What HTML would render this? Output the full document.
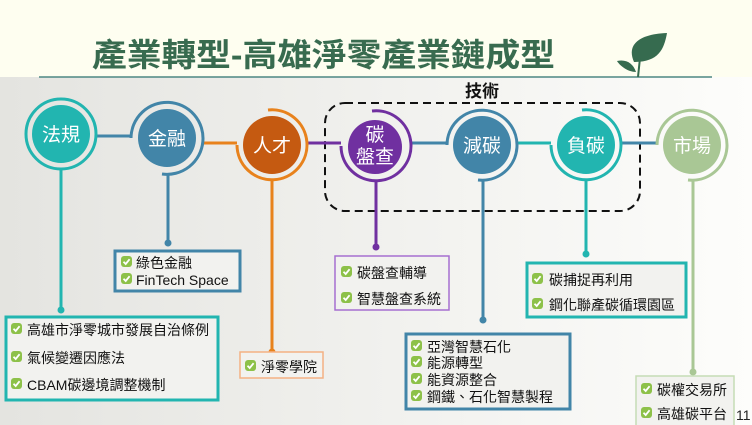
<!DOCTYPE html>
<html><head><meta charset="utf-8"><style>
html,body{margin:0;padding:0;width:752px;height:425px;overflow:hidden;}
svg{display:block;}
text{font-family:"Liberation Sans","Noto Sans CJK TC",sans-serif;}
</style></head><body>
<svg width="752" height="425" viewBox="0 0 752 425" xmlns="http://www.w3.org/2000/svg">
<defs>
<linearGradient id="bg" x1="0" x2="1" y1="0" y2="0">
<stop offset="0" stop-color="#e4e4e0"/><stop offset="1" stop-color="#fdfdfb"/>
</linearGradient>
<g id="ck"><rect x="0" y="0" width="11" height="11" rx="3" fill="#8dc149"/><path d="M2.5 5.8 L4.7 8 L8.6 3.2" stroke="#fff" stroke-width="1.8" fill="none"/></g>
</defs>
<rect width="752" height="425" fill="url(#bg)"/>
<rect width="752" height="77" fill="#fefef0"/>
<line x1="39" y1="77" x2="712" y2="77" stroke="#4d8783" stroke-width="1.5"/>
<text x="92" y="66" font-size="32" font-weight="bold" fill="#386b4f" textLength="463" lengthAdjust="spacingAndGlyphs">產業轉型-高雄淨零產業鏈成型</text>
<!-- leaf -->
<path d="M634 62 C626 44 640 34 667 33 C664 50 658 62 634 62 Z" fill="#366b4f"/>
<path d="M636 72 C628 72 620 66 617 61 C626 59 633 63 636 72 Z" fill="#366b4f"/>
<path d="M640 58 L638 77" stroke="#366b4f" stroke-width="2"/>

<rect x="325" y="103" width="315" height="108" rx="20" fill="none" stroke="#111" stroke-width="2" stroke-dasharray="8,5"/>
<text x="482" y="97" font-size="17" font-weight="bold" fill="#111" text-anchor="middle">技術</text>

<g fill="none" stroke-width="3">
<path d="M97 136 H131" stroke="#4285a8"/>
<path d="M203 143 H237" stroke="#e8821c"/>
<path d="M308 143 H341" stroke="#7030a0"/>
<path d="M411 143 H447" stroke="#4285a8"/>
<path d="M517 143 H551" stroke="#22b5b0"/>
<path d="M621 143 H657" stroke="#4285a8"/>
</g>
<g fill="none" stroke-width="3">
<circle cx="61" cy="134" r="35" stroke="#22b5b0"/>
<path d="M131 138 A36 36 0 1 1 162 174" stroke="#4285a8"/>
<path d="M237 145 A35 35 0 1 0 268 110" stroke="#e8821c"/>
<path d="M341 146 A35 35 0 1 0 372 111" stroke="#7030a0"/>
<path d="M447 145 A35 35 0 1 1 478 180" stroke="#4285a8"/>
<path d="M551 145 A35 35 0 1 0 582 110" stroke="#22b5b0"/>
<path d="M657 145 A35 35 0 1 1 688 180" stroke="#a9c795"/>
</g>
<g stroke-width="3">
<path d="M61 169 V310" stroke="#22b5b0"/><circle cx="61" cy="310" r="3.5" fill="#22b5b0"/>
<path d="M168 174 V243" stroke="#4285a8"/><circle cx="168" cy="243" r="3.5" fill="#4285a8"/>
<path d="M272 180 V352" stroke="#e8821c"/><circle cx="272" cy="352" r="3.5" fill="#e8821c"/>
<path d="M376 181 V247" stroke="#7030a0"/><circle cx="376" cy="247" r="3.5" fill="#7030a0"/>
<path d="M483 180 V320" stroke="#4285a8"/><circle cx="483" cy="320" r="3.5" fill="#4285a8"/>
<path d="M586 180 V254" stroke="#22b5b0"/><circle cx="586" cy="254" r="3.5" fill="#22b5b0"/>
<path d="M693 180 V372" stroke="#a9c795"/><circle cx="693" cy="372" r="3.5" fill="#a9c795"/>
</g>
<g>
<circle cx="61" cy="134" r="29" fill="#22b5b0"/>
<circle cx="167" cy="138" r="29" fill="#4285a8"/>
<circle cx="272" cy="145" r="29" fill="#c55a11"/>
<circle cx="375" cy="147" r="27" fill="#7030a0"/>
<circle cx="482" cy="145" r="29" fill="#4285a8"/>
<circle cx="586" cy="145" r="29" fill="#22b5b0"/>
<circle cx="692" cy="145" r="29" fill="#a9c795"/>
</g>
<g fill="#fff" font-size="19" text-anchor="middle">
<text x="61" y="141">法規</text>
<text x="167" y="145">金融</text>
<text x="272" y="152">人才</text>
<text x="375" y="141">碳</text>
<text x="375" y="163">盤查</text>
<text x="482" y="152">減碳</text>
<text x="586" y="152">負碳</text>
<text x="692" y="152">市場</text>
</g>
<g fill="#f2f2ef">
<rect x="6" y="317" width="212" height="83" stroke="#22b5b0" stroke-width="3"/>
<rect x="115" y="251" width="125" height="40" stroke="#4285a8" stroke-width="3"/>
<rect x="240" y="352" width="83" height="26" stroke="#f4b183" stroke-width="1.5"/>
<rect x="335" y="256" width="114" height="54" stroke="#a66fd0" stroke-width="1.5"/>
<rect x="406" y="334" width="164" height="75" stroke="#4285a8" stroke-width="3"/>
<rect x="527" y="263" width="159" height="54" stroke="#22b5b0" stroke-width="3"/>
<rect x="636" y="376" width="98" height="50" stroke="#c5dcb5" stroke-width="1.5"/>
</g>
<g font-size="14" fill="#111">
<use href="#ck" x="11" y="323"/><text x="27" y="335">高雄市淨零城市發展自治條例</text>
<use href="#ck" x="11" y="351"/><text x="27" y="363">氣候變遷因應法</text>
<use href="#ck" x="11" y="378"/><text x="27" y="390">CBAM碳邊境調整機制</text>
<use href="#ck" x="121" y="256"/><text x="136" y="268">綠色金融</text>
<use href="#ck" x="121" y="273"/><text x="136" y="285">FinTech Space</text>
<use href="#ck" x="245" y="360"/><text x="261" y="372">淨零學院</text>
<use href="#ck" x="341" y="266"/><text x="357" y="278">碳盤查輔導</text>
<use href="#ck" x="341" y="292"/><text x="357" y="304">智慧盤查系統</text>
<use href="#ck" x="411" y="340"/><text x="427" y="352">亞灣智慧石化</text>
<use href="#ck" x="411" y="356"/><text x="427" y="368">能源轉型</text>
<use href="#ck" x="411" y="373"/><text x="427" y="385">能資源整合</text>
<use href="#ck" x="411" y="390"/><text x="427" y="402">鋼鐵、石化智慧製程</text>
<use href="#ck" x="532" y="273"/><text x="549" y="285">碳捕捉再利用</text>
<use href="#ck" x="532" y="298"/><text x="549" y="310">鋼化聯產碳循環園區</text>
<use href="#ck" x="641" y="383"/><text x="657" y="395">碳權交易所</text>
<use href="#ck" x="641" y="407"/><text x="657" y="419">高雄碳平台</text>
</g>
<text x="736" y="420" font-size="14" fill="#222">11</text>
</svg>
</body></html>
